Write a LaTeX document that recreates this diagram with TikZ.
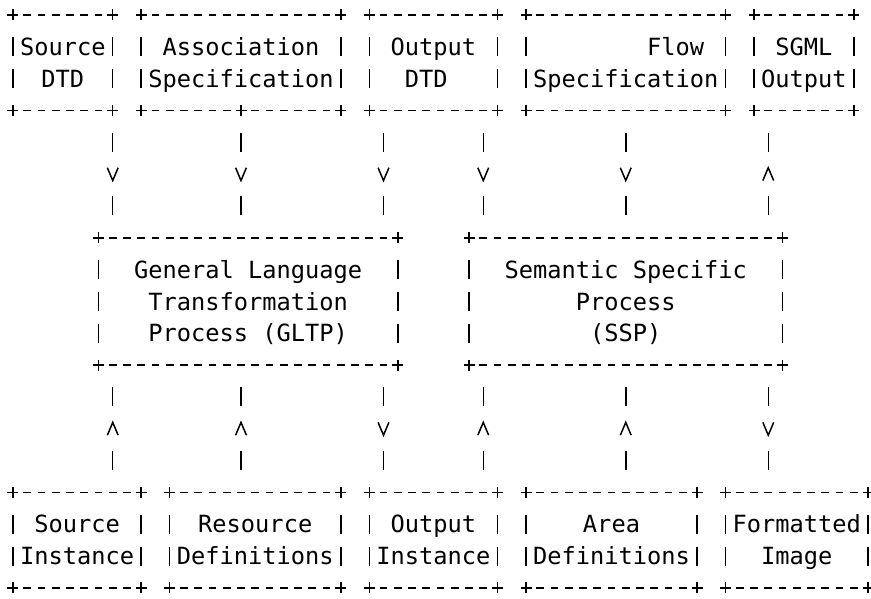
\documentclass[tikz,border=0pt]{standalone}
\usepackage{fontspec}
\setmonofont{DejaVu Sans Mono}
\usetikzlibrary{decorations.markings}

\newcommand\linestrut{\rule[-3.65pt]{0pt}{15.915pt}}

\begin{document}
\begin{tikzpicture}[x=7.125pt,y=-15.915pt,
		every node/.style={font=\ttfamily\fontsize{11.84pt}{15.915pt}\selectfont},
		abox/.style 2 args={inner sep=0pt,outer sep=0pt,align=center,minimum width=#1*7.125pt,minimum height=#2*15.915pt},
		hyphenline/.style={line width=0.75pt,dash pattern=on 3.8pt off 3.325pt,dash phase=1.9pt},
		barline/.style={line width=0.75pt,dash pattern=on 9.5pt off 6.415pt,shorten <=11.165pt,shorten >=11.165pt},
		crossmark/.pic={\draw[line width=0.75pt] (-2.75pt,0pt) -- (2.75pt,0pt) (0pt,-2.75pt) -- (0pt,2.75pt);},
		flowline/.style={line width=0.75pt,dash pattern=on 9.5pt off 22.33pt,dash phase=20.665pt,
			postaction={decorate},decoration={markings,mark=at position 0.5 with {\draw[solid] (-3.2pt,2.7pt) -- (3.2pt,0pt) -- (-3.2pt,-2.7pt);}}}]
		\useasboundingbox (-0.912,-0.471) rectangle (60.21,18.347);
		
		\node[abox={7}{3}] (srcdtd) at (3.5,1.5) {\linestrut Source\\\linestrut~DTD~~};
		\node[abox={14}{3}] (assoc) at (16,1.5) {\linestrut Association\\\linestrut Specification};
		\node[abox={9}{3}] (outdtd) at (29.5,1.5) {\linestrut Output\\\linestrut~DTD~~~};
		\node[abox={14}{3}] (flow) at (43,1.5) {\linestrut~~~~~~~Flow~\\\linestrut Specification};
		\node[abox={7}{3}] (sgml) at (55.5,1.5) {\linestrut SGML\\\linestrut Output};
		
		\node[abox={21}{4}] (gltp) at (16.5,9) {\linestrut General Language\\\linestrut Transformation\\\linestrut Process (GLTP)};
		\node[abox={22}{4}] (ssp) at (43,9) {\linestrut Semantic Specific\\\linestrut Process\\\linestrut (SSP)};
		
		\node[abox={9}{3}] (srcinst) at (4.5,16.5) {\linestrut Source\\\linestrut Instance};
		\node[abox={12}{3}] (resdef) at (17,16.5) {\linestrut~Resource~~\\\linestrut Definitions};
		\node[abox={9}{3}] (outinst) at (29.5,16.5) {\linestrut Output\\\linestrut Instance};
		\node[abox={12}{3}] (areadef) at (42,16.5) {\linestrut~~~Area~~~~\\\linestrut Definitions};
		\node[abox={10}{3}] (fmtimg) at (55,16.5) {\linestrut Formatted\\\linestrut Image};
		
		\foreach \b in {srcdtd,assoc,outdtd,flow,sgml,gltp,ssp,srcinst,resdef,outinst,areadef,fmtimg}{
			\draw[hyphenline] (\b.north west) -- (\b.north east);
			\draw[hyphenline] (\b.south west) -- (\b.south east);
			\draw[barline] (\b.north west) -- (\b.south west);
			\draw[barline] (\b.north east) -- (\b.south east);
			\foreach \c in {north west,north east,south west,south east}
				\pic at (\b.\c) {crossmark};
		}
		
		\coordinate (lane1) at (7,0);
		\coordinate (lane2) at (16,0);
		\coordinate (lane3) at (26,0);
		\coordinate (lane4) at (33,0);
		\coordinate (lane5) at (43,0);
		\coordinate (lane6) at (53,0);
		\pic at (assoc.south -| lane2) {crossmark};
		
		\draw[flowline] (srcdtd.south -| lane1) -- (gltp.north -| lane1);
		\draw[flowline] (assoc.south -| lane2) -- (gltp.north -| lane2);
		\draw[flowline] (outdtd.south -| lane3) -- (gltp.north -| lane3);
		\draw[flowline] (outdtd.south -| lane4) -- (ssp.north -| lane4);
		\draw[flowline] (flow.south -| lane5) -- (ssp.north -| lane5);
		\draw[flowline] (ssp.north -| lane6) -- (sgml.south -| lane6);
		
		\draw[flowline] (srcinst.north -| lane1) -- (gltp.south -| lane1);
		\draw[flowline] (resdef.north -| lane2) -- (gltp.south -| lane2);
		\draw[flowline] (gltp.south -| lane3) -- (outinst.north -| lane3);
		\draw[flowline] (outinst.north -| lane4) -- (ssp.south -| lane4);
		\draw[flowline] (areadef.north -| lane5) -- (ssp.south -| lane5);
		\draw[flowline] (ssp.south -| lane6) -- (fmtimg.north -| lane6);
		\end{tikzpicture}
\end{document}
